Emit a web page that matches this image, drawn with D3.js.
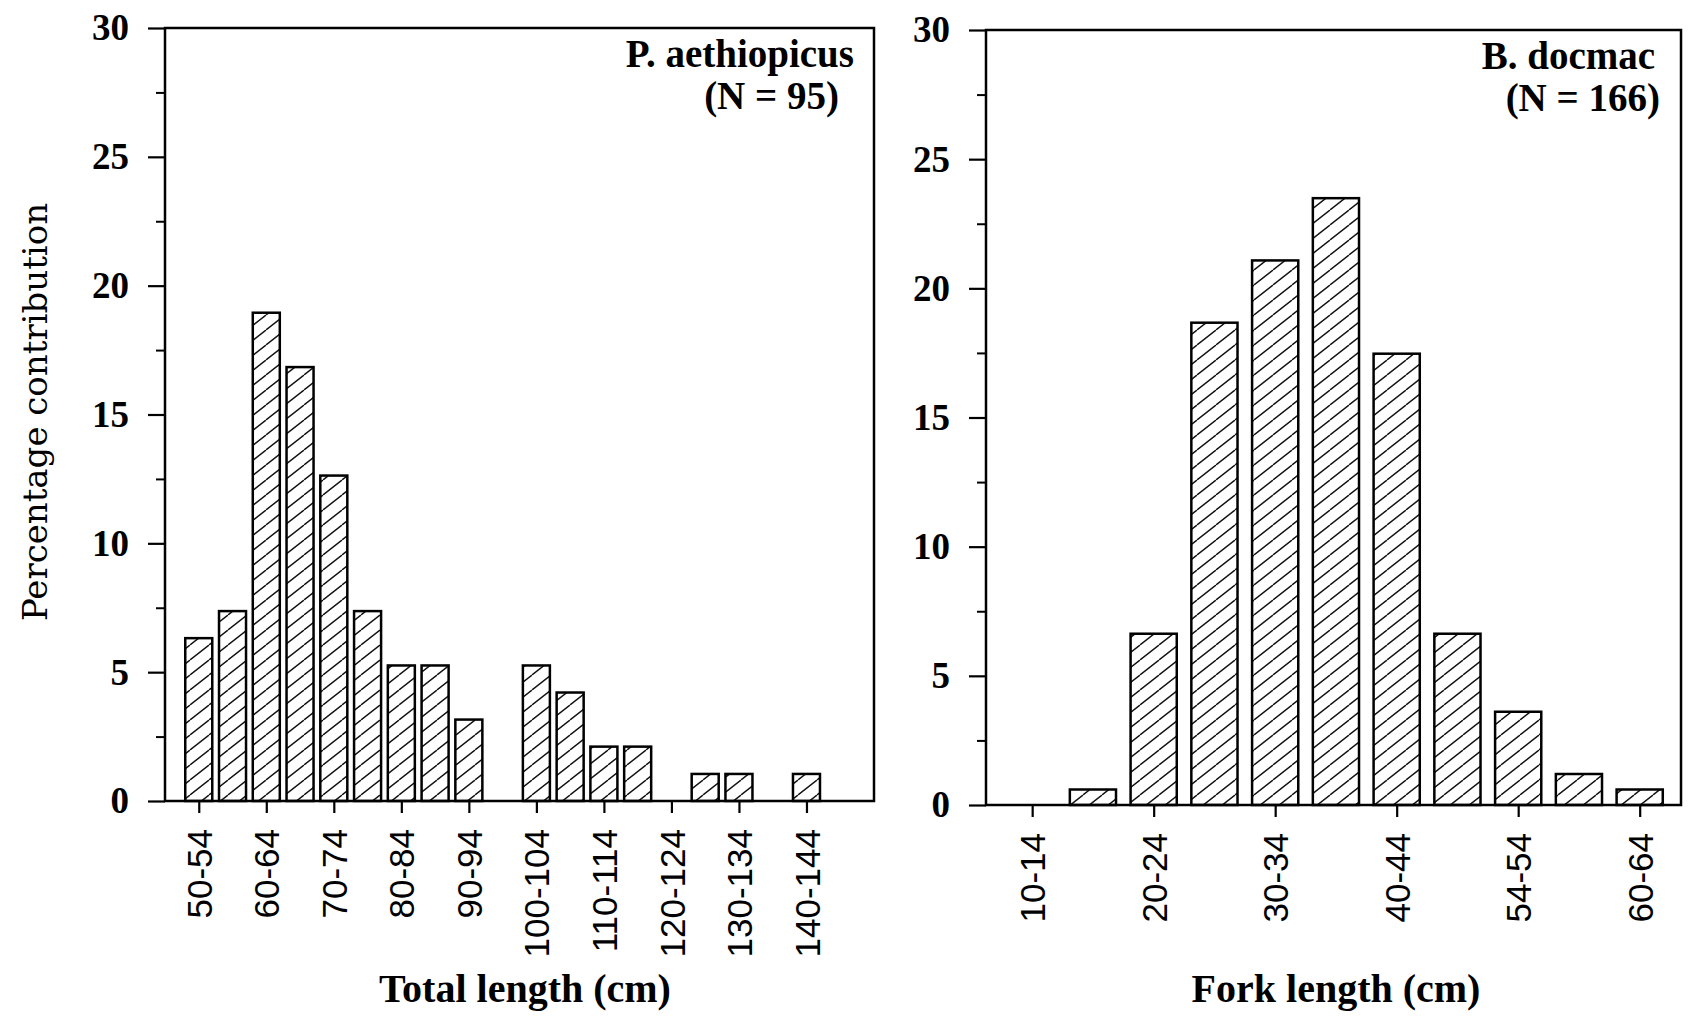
<!DOCTYPE html>
<html>
<head>
<meta charset="utf-8">
<script src="https://cdn.jsdelivr.net/npm/d3@7"></script>
<style>
  body { margin: 0; background: #fff; }
</style>
</head>
<body>
<div class="lengthchart"></div>
<script>

// P. aethiopicus - total length classes (5 cm bins)
var totalBins = ['50-54', '55-59', '60-64', '65-69', '70-74', '75-79', '80-84', '85-89', '90-94', '95-99',
    '100-104', '105-109', '110-114', '115-119', '120-124', '125-129', '130-134', '135-139', '140-144'];
var totalPct = [6.32, 7.37, 18.95, 16.84, 12.63, 7.37, 5.26, 5.26, 3.16, 0,
    5.26, 4.21, 2.11, 2.11, 0, 1.05, 1.05, 0, 1.05];
var totalTickLabels = ['50-54', '60-64', '70-74', '80-84', '90-94', '100-104', '110-114', '120-124', '130-134', '140-144'];

// B. docmac - fork length classes
var forkBins = ['10-14', '15-19', '20-24', '25-29', '30-34', '35-39', '40-44', '45-49', '50-54', '55-59', '60-64'];
var forkPct = [0, 0.6, 6.63, 18.67, 21.08, 23.49, 17.47, 6.63, 3.61, 1.2, 0.6];
var forkTickLabels = ['10-14', '20-24', '30-34', '40-44', '54-54', '60-64'];

var yTicks = [0, 5, 10, 15, 20, 25, 30];
var yMinorTicks = [2.5, 7.5, 12.5, 17.5, 22.5, 27.5];

var width = 1688,
    height = 1018;

var svg = d3.select('.lengthchart')
    .append('svg')
    .attr('width', width)
    .attr('height', height);

// hatch fill used by every bar
var defs = svg.append('defs');
defs.append('pattern')
    .attr('id', 'hatch')
    .attr('patternUnits', 'userSpaceOnUse')
    .attr('width', 19)
    .attr('height', 15)
    .append('path')
    .attr('d', 'M-19,15 L0,0 M0,15 L19,0 M19,15 L38,0')
    .attr('stroke', '#111')
    .attr('stroke-width', 1.4);

var serif = '"Liberation Serif", "Times New Roman", serif';

function drawPanel(p) {
    var x = d3.scaleLinear()
        .domain(p.xDomain)
        .range([p.left, p.right]);
    var y = d3.scaleLinear()
        .domain([0, 30])
        .range([p.bottom, p.top]);

    var data = p.values.map(function(v, i) {
        return {bin: p.bins[i], idx: i, pct: v};
    }).filter(function(d) { return d.pct > 0; });

    var g = svg.append('g').attr('class', 'panel');

    var bw = (x(1) - x(0)) * p.barFrac;

    g.append('g')
        .attr('class', 'bars')
        .selectAll('rect')
        .data(data)
        .enter().append('rect')
        .attr('x', function(d) { return x(d.idx) - bw / 2; })
        .attr('y', function(d) { return y(d.pct); })
        .attr('width', bw)
        .attr('height', function(d) { return y(0) - y(d.pct); })
        .attr('fill', 'url(#hatch)')
        .attr('stroke', '#000')
        .attr('stroke-width', 2.5);

    // y axis, major and minor ticks
    var yAxis = g.append('g')
        .attr('transform', 'translate(' + p.left + ',0)')
        .call(d3.axisLeft(y).tickValues(yTicks).tickSize(17).tickPadding(19).tickFormat(d3.format('d')));
    yAxis.select('.domain').remove();
    yAxis.selectAll('line').attr('stroke-width', 2.2);
    yAxis.selectAll('text')
        .attr('font-family', serif)
        .attr('font-weight', 'bold')
        .attr('font-size', 37)
        .attr('fill', '#000');

    var yMinor = g.append('g')
        .attr('transform', 'translate(' + p.left + ',0)')
        .call(d3.axisLeft(y).tickValues(yMinorTicks).tickSize(9).tickFormat(''));
    yMinor.select('.domain').remove();
    yMinor.selectAll('line').attr('stroke-width', 2);

    // x axis, labelled every other bin
    var xAxis = g.append('g')
        .attr('transform', 'translate(0,' + p.bottom + ')')
        .call(d3.axisBottom(x)
            .tickValues(d3.range(0, p.bins.length, 2))
            .tickSize(12)
            .tickFormat(function(d, i) { return p.tickLabels[i]; }));
    xAxis.select('.domain').remove();
    xAxis.selectAll('line').attr('stroke-width', 2.2);
    xAxis.selectAll('text')
        .attr('font-family', '"Liberation Sans", Arial, sans-serif')
        .attr('font-size', 35)
        .attr('fill', '#000')
        .attr('text-anchor', 'end')
        .attr('transform', 'rotate(-90)')
        .attr('x', -28)
        .attr('y', 0)
        .attr('dy', '0.36em');

    // frame
    g.append('rect')
        .attr('x', p.left)
        .attr('y', p.top)
        .attr('width', p.right - p.left)
        .attr('height', p.bottom - p.top)
        .attr('fill', 'none')
        .attr('stroke', '#000')
        .attr('stroke-width', 2.5);

    // species label
    g.append('text')
        .attr('x', p.nameX)
        .attr('y', p.top + 39)
        .attr('text-anchor', 'end')
        .attr('font-family', serif)
        .attr('font-weight', 'bold')
        .attr('font-size', 39)
        .text(p.name);
    g.append('text')
        .attr('x', p.countX)
        .attr('y', p.top + 81)
        .attr('text-anchor', 'end')
        .attr('font-family', serif)
        .attr('font-weight', 'bold')
        .attr('font-size', 39)
        .text(p.count);

    // x title
    g.append('text')
        .attr('x', p.titleX)
        .attr('y', 1002)
        .attr('text-anchor', 'middle')
        .attr('font-family', serif)
        .attr('font-weight', 'bold')
        .attr('font-size', 40)
        .text(p.title);
}

drawPanel({
    bins: totalBins,
    values: totalPct,
    tickLabels: totalTickLabels,
    xDomain: [-1, 20],
    barFrac: 0.8,
    left: 165, right: 874, top: 28, bottom: 801,
    name: 'P. aethiopicus', nameX: 854,
    count: '(N = 95)', countX: 839,
    title: 'Total length (cm)', titleX: 525
});

drawPanel({
    bins: forkBins,
    values: forkPct,
    tickLabels: forkTickLabels,
    xDomain: [-0.76, 10.68],
    barFrac: 0.76,
    left: 986, right: 1681, top: 30, bottom: 805,
    name: 'B. docmac', nameX: 1655,
    count: '(N = 166)', countX: 1660,
    title: 'Fork length (cm)', titleX: 1336
});

// shared y title
svg.append('text')
    .attr('transform', 'translate(47,412) rotate(-90)')
    .attr('text-anchor', 'middle')
    .attr('font-family', '"DejaVu Serif", serif')
    .attr('font-size', 34)
    .text('Percentage contribution');

</script>
</body>
</html>
